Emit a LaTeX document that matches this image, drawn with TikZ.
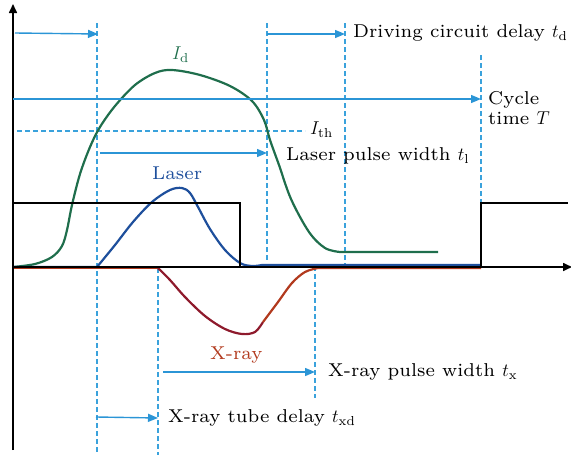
\documentclass[tikz,border=0pt]{standalone}
\RequirePackage{fix-cm}
\usepackage{fontspec}
\setmainfont{lmroman7-regular.otf}
\usetikzlibrary{arrows.meta}
\definecolor{arrblue}{HTML}{2B95D6}
\definecolor{dashblue}{HTML}{3AA2DC}
\definecolor{idgreen}{HTML}{1F6E4C}
\definecolor{lasblue}{HTML}{1E4F9C}
\definecolor{xdark}{HTML}{8E1A2C}
\definecolor{xred}{HTML}{B23A1E}
\begin{document}
\begin{tikzpicture}[x=1pt,y=-1pt,
  lbl/.style={anchor=west,inner sep=0pt,font=\fontsize{18.6}{20.5}\selectfont},
  axis/.style={line width=1.6pt,-{Triangle[length=9pt,width=8pt]}},
  tarrow/.style={arrblue,line width=1.4pt,-{Triangle[length=10pt,width=8pt]}},
  vdash/.style={dashblue,line width=1.2pt,dash pattern=on 5pt off 3pt},
  curve/.style={line width=2.2pt,line join=round}]
\useasboundingbox (0,0) rectangle (571,455);
% dashed guides
\draw[vdash] (97,23) -- (97,455);
\draw[vdash] (158,268) -- (158,455);
\draw[vdash] (267,23) -- (267,262);
\draw[vdash] (345,23) -- (345,266);
\draw[vdash] (315,266) -- (315,398);
\draw[vdash] (481,55) -- (481,266);
\draw[vdash] (17,131) -- (305,131);
% curves
\draw[curve,idgreen] plot[smooth,tension=0.55] coordinates {(13,267) (35,264) (52,257) (62,246) (67,230) (72,205) (80,174) (90,147) (100,127) (115,106) (135,85) (155,73) (172,70) (200,75) (230,86) (252,101) (264,120) (270,140) (279,165) (291,199) (309,232) (325,248) (340,252)} -- (438,252);
\draw[curve,lasblue] (13,267) -- (97,267) plot[smooth,tension=0.55] coordinates {(97,267) (115,245) (133,222) (152,202) (170,190) (182,188) (190,193) (198,207) (210,229) (225,250) (240,263) (252,266) (262,265)} -- (481,265);
\draw[curve,xred] (13,268) -- (158,268);
\draw[curve,xdark] plot[smooth,tension=0.55] coordinates {(158,268) (170,280) (185,297) (205,316) (225,329) (242,334) (255,332) (263,322)};
\draw[curve,xred] plot[smooth,tension=0.55] coordinates {(263,322) (278,302) (292,283) (305,272) (318,268)} -- (481,268);
% pulse
\draw[line width=1.8pt,line join=miter] (13,203) -- (240,203) -- (240,267) -- (481,267) -- (481,203) -- (568,203);
% axes
\draw[axis] (13,450) -- (13,4);
\draw[axis] (13,267) -- (572,267);
% timing arrows
\coordinate (a1s) at (15,33); \coordinate (a1e) at (98,34);
\draw[tarrow] (a1s) -- (a1e);
\coordinate (a2s) at (267,34); \coordinate (a2e) at (345,34);
\draw[tarrow] (a2s) -- (a2e);
\coordinate (a3s) at (13,99); \coordinate (a3e) at (481,99);
\draw[tarrow] (a3s) -- (a3e);
\coordinate (a4s) at (100,153); \coordinate (a4e) at (267,153);
\draw[tarrow] (a4s) -- (a4e);
\coordinate (a5s) at (163,372); \coordinate (a5e) at (315,372);
\draw[tarrow] (a5s) -- (a5e);
\coordinate (a6s) at (96,417); \coordinate (a6e) at (158,418);
\draw[tarrow] (a6s) -- (a6e);
% labels
\node[lbl] (ld) at (353,33) {Driving circuit delay $t_\mathrm{d}$};
\node[lbl,align=left] (lT) at (488,108) {Cycle\\time $T$};
\node[lbl] (lth) at (310,130) {$I_\mathrm{th}$};
\node[lbl] (ll) at (286,156) {Laser pulse width $t_\mathrm{l}$};
\node[lbl] (lx) at (328,372) {X-ray pulse width $t_\mathrm{x}$};
\node[lbl] (lxd) at (168,418) {X-ray tube delay $t_\mathrm{xd}$};
\node[lbl,idgreen] (nid) at (172,55) {$I_\mathrm{d}$};
\node[lbl,lasblue] (nlas) at (152,173) {Laser};
\node[lbl,xred] (nx) at (210,355) {X-ray};
\end{tikzpicture}
\end{document}
